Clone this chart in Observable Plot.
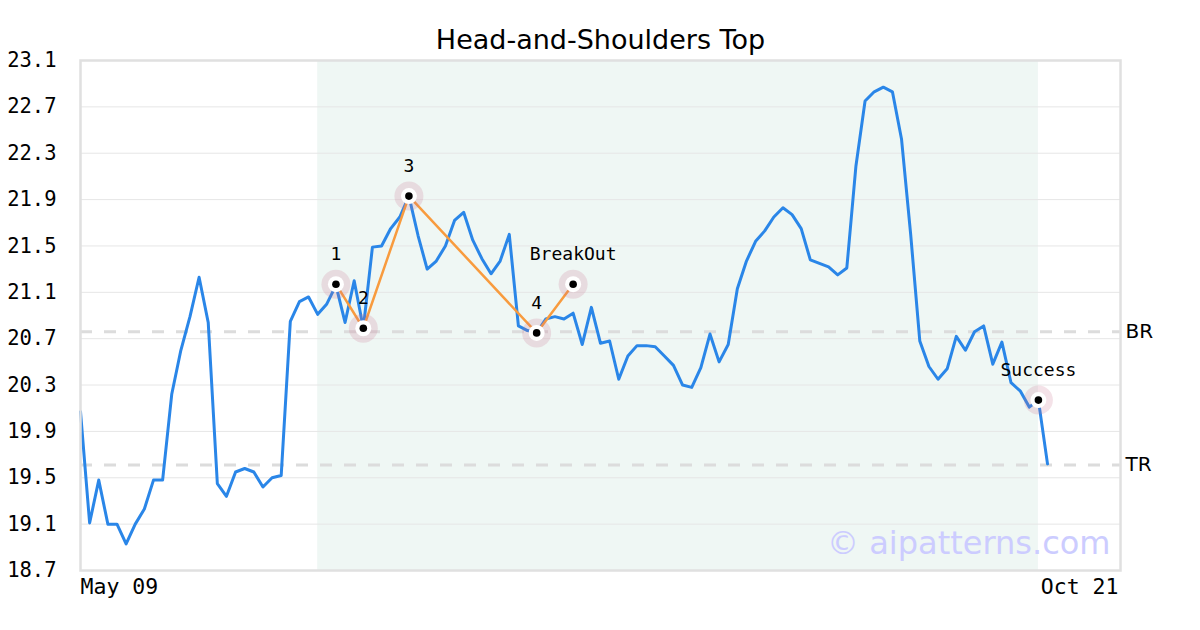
<!DOCTYPE html>
<html>
<head>
<meta charset="utf-8">
<script src="https://cdn.jsdelivr.net/npm/d3@7"></script>
<script src="https://cdn.jsdelivr.net/npm/@observablehq/plot@0.6"></script>
<style>
  html, body { margin: 0; padding: 0; background: #fff; }
  #wrap { position: relative; width: 1200px; height: 630px; }
  #title { position: absolute; top: 25px; left: 0; width: 1201px; text-align: center;
           font: 27px "DejaVu Sans", sans-serif; line-height: 30px; color: #000; }
  #chart { position: absolute; top: 0; left: 0; }
</style>
</head>
<body>
<div id="wrap">
  <div id="chart"></div>
  <div id="title">Head-and-Shoulders Top</div>
</div>
<script>
// ---- data ----
const prices = [
  20.07, 19.11, 19.48, 19.10, 19.10, 18.93, 19.10, 19.23, 19.48, 19.48,
  20.22, 20.60, 20.89, 21.23, 20.84, 19.45, 19.34, 19.55, 19.58, 19.55,
  19.42, 19.50, 19.52, 20.85, 21.02, 21.06, 20.91, 21.00, 21.16, 20.84,
  21.20, 20.79, 21.49, 21.50, 21.65, 21.75, 21.93, 21.59, 21.30, 21.37,
  21.50, 21.72, 21.79, 21.55, 21.39, 21.26, 21.37, 21.60, 20.81, 20.77,
  20.75, 20.87, 20.89, 20.87, 20.92, 20.65, 20.97, 20.66, 20.68, 20.35,
  20.55, 20.64, 20.64, 20.63, 20.55, 20.47, 20.30, 20.28, 20.45, 20.74,
  20.50, 20.65, 21.13, 21.37, 21.54, 21.63, 21.75, 21.83, 21.77, 21.65,
  21.38, 21.35, 21.32, 21.25, 21.31, 22.19, 22.75, 22.83, 22.87, 22.83,
  22.42, 21.60, 20.68, 20.46, 20.35, 20.44, 20.72, 20.60, 20.76, 20.81,
  20.48, 20.67, 20.32, 20.25, 20.11, 20.17, 19.62
];
const axisSlots = 114;                 // trading-day slots from first to last axis label
const xTickLabels = ["May 09", "Oct 21"];
const yTicks = [18.7, 19.1, 19.5, 19.9, 20.3, 20.7, 21.1, 21.5, 21.9, 22.3, 22.7, 23.1];
const patternStart = 26;
const patternEnd = 105;
const pivotLabels = ["1", "2", "3", "4", "BreakOut"];
const pivotIndex = [28, 31, 36, 50, 54];
const pivotValue = [21.17, 20.79, 21.93, 20.75, 21.17];
const successLabel = "Success";
const successIndex = 105;
const successValue = 20.17;
const levelNames = ["BR", "TR"];
const levelValues = [20.76, 19.61];
const watermark = "© aipatterns.com";

// ---- tables built from arrays ----
const series = prices.map((v, i) => ({i, v}));
const pivots = pivotLabels.map((t, k) => ({t, i: pivotIndex[k], v: pivotValue[k]}));
const markers = [...pivots, {t: successLabel, i: successIndex, v: successValue}];
const levels = levelNames.map((n, k) => ({n, v: levelValues[k]}));

const mono = "DejaVu Sans Mono, monospace";
const sans = "DejaVu Sans, sans-serif";

const chart = Plot.plot({
  width: 1200,
  height: 630,
  marginTop: 60,
  marginBottom: 60,
  marginLeft: 80,
  marginRight: 80,
  x: {domain: [0, axisSlots]},
  y: {domain: [18.7, 23.1]},
  style: {fontFamily: mono, fontSize: "20px", color: "#000", background: "#fff"},
  marks: [
    Plot.rect([{a: patternStart, b: patternEnd}], {x1: "a", x2: "b", fill: "#eff7f4"}),
    Plot.gridY(yTicks, {stroke: "#e6e6e6", strokeOpacity: 1, strokeWidth: 1}),
    Plot.ruleY(levels, {y: "v", stroke: "#dcdcdc", strokeWidth: 3, strokeDasharray: "12,12"}),
    Plot.text(levels, {x: axisSlots, y: "v", text: "n", textAnchor: "start", dx: 5,
      fontFamily: sans, fontSize: 20, fill: "#000"}),
    Plot.axisY({ticks: yTicks, tickFormat: d => d.toFixed(1), tickSize: 0, tickPadding: 24,
      fontFamily: mono, fontSize: 20.5, label: null}),
    Plot.axisX({ticks: [0], tickFormat: () => xTickLabels[0], tickSize: 0, tickPadding: 8,
      textAnchor: "start", fontFamily: mono, fontSize: 21.5, label: null}),
    Plot.axisX({ticks: [axisSlots], tickFormat: () => xTickLabels[1], tickSize: 0, tickPadding: 8,
      textAnchor: "end", dx: -2, fontFamily: mono, fontSize: 21.5, label: null}),
    Plot.text([watermark], {frameAnchor: "bottom-right", text: d => d, dx: -10, dy: -17,
      lineAnchor: "bottom", fontFamily: sans, fontSize: 32, fill: "#ccccff"}),
    Plot.line(series, {x: "i", y: "v", stroke: "#2a86e8", strokeWidth: 3, strokeLinejoin: "round"}),
    Plot.line(pivots, {x: "i", y: "v", stroke: "#f89b3e", strokeWidth: 2.5}),
    Plot.dot(markers, {x: "i", y: "v", r: 14.5, fill: "#c8708a", fillOpacity: 0.2, stroke: null}),
    Plot.dot(markers, {x: "i", y: "v", r: 8, fill: "#fff", stroke: null}),
    Plot.dot(markers, {x: "i", y: "v", r: 3.8, fill: "#000", stroke: null}),
    Plot.text(markers, {x: "i", y: "v", text: "t", dy: -30, fontFamily: mono, fontSize: 18, fill: "#000"}),
    Plot.frame({stroke: "#e0e0e0", strokeWidth: 2.5})
  ]
});
document.getElementById("chart").appendChild(chart);
</script>
</body>
</html>
